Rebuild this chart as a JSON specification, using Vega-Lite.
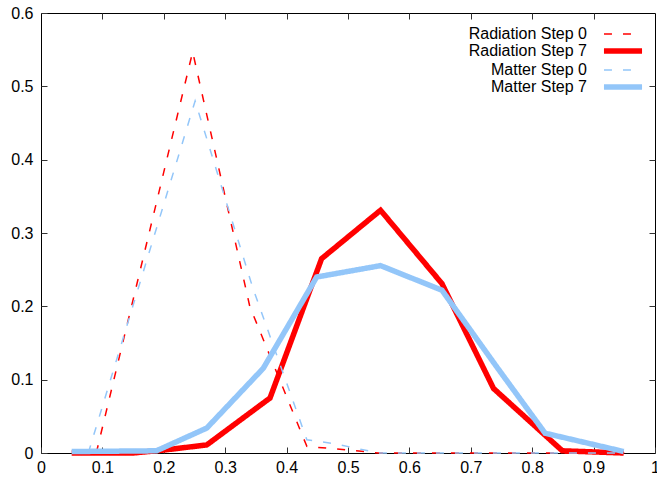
{
  "$schema": "https://vega.github.io/schema/vega-lite/v6.json",
  "width": 614,
  "height": 440,
  "autosize": {"type": "none"},
  "padding": {"left": 41, "top": 13, "right": 2, "bottom": 26},
  "background": "white",
  "config": {
    "view": {"stroke": "#000000", "strokeWidth": 1},
    "font": "Liberation Sans",
    "axis": {"grid": false, "domain": false, "tickColor": "#333333", "tickWidth": 1, "labelFont": "Liberation Sans", "labelFontSize": 16, "labelColor": "#000000"},
    "legend": {"labelFont": "Liberation Sans", "labelFontSize": 16, "labelColor": "#000000", "labelLimit": 300}
  },
  "data": {"values": [
    {"series": "Radiation Step 0", "x": 0.09, "y": 0},
    {"series": "Radiation Step 0", "x": 0.247, "y": 0.547},
    {"series": "Radiation Step 0", "x": 0.34, "y": 0.2},
    {"series": "Radiation Step 0", "x": 0.433, "y": 0.009},
    {"series": "Radiation Step 0", "x": 0.5, "y": 0.004},
    {"series": "Radiation Step 0", "x": 0.55, "y": 0},
    {"series": "Radiation Step 0", "x": 0.95, "y": 0},
    {"series": "Radiation Step 7", "x": 0.05, "y": 0},
    {"series": "Radiation Step 7", "x": 0.15, "y": 0},
    {"series": "Radiation Step 7", "x": 0.2, "y": 0.004},
    {"series": "Radiation Step 7", "x": 0.27, "y": 0.011},
    {"series": "Radiation Step 7", "x": 0.373, "y": 0.075},
    {"series": "Radiation Step 7", "x": 0.457, "y": 0.265},
    {"series": "Radiation Step 7", "x": 0.553, "y": 0.331},
    {"series": "Radiation Step 7", "x": 0.653, "y": 0.231},
    {"series": "Radiation Step 7", "x": 0.737, "y": 0.088},
    {"series": "Radiation Step 7", "x": 0.849, "y": 0.003},
    {"series": "Radiation Step 7", "x": 0.949, "y": 0},
    {"series": "Matter Step 0", "x": 0.077, "y": 0},
    {"series": "Matter Step 0", "x": 0.251, "y": 0.48},
    {"series": "Matter Step 0", "x": 0.345, "y": 0.225},
    {"series": "Matter Step 0", "x": 0.433, "y": 0.018},
    {"series": "Matter Step 0", "x": 0.476, "y": 0.013},
    {"series": "Matter Step 0", "x": 0.55, "y": 0},
    {"series": "Matter Step 0", "x": 0.95, "y": 0},
    {"series": "Matter Step 7", "x": 0.05, "y": 0.002},
    {"series": "Matter Step 7", "x": 0.188, "y": 0.003},
    {"series": "Matter Step 7", "x": 0.27, "y": 0.034},
    {"series": "Matter Step 7", "x": 0.362, "y": 0.1155},
    {"series": "Matter Step 7", "x": 0.449, "y": 0.24},
    {"series": "Matter Step 7", "x": 0.553, "y": 0.2555},
    {"series": "Matter Step 7", "x": 0.653, "y": 0.222},
    {"series": "Matter Step 7", "x": 0.74, "y": 0.12},
    {"series": "Matter Step 7", "x": 0.821, "y": 0.027},
    {"series": "Matter Step 7", "x": 0.949, "y": 0.002}
  ]},
  "resolve": {"axis": {"x": "independent", "y": "independent"}},
  "layer": [
    {
      "mark": {"type": "line", "clip": false},
      "encoding": {
        "x": {"field": "x", "type": "quantitative", "scale": {"domain": [0, 1], "nice": false},
              "axis": {"orient": "bottom", "title": null, "values": [0,0.1,0.2,0.3,0.4,0.5,0.6,0.7,0.8,0.9,1], "tickSize": -6, "labelPadding": 12, "labelFlush": false, "labelExpr": "datum.value == 0 ? '0' : datum.value == 1 ? '1' : format(datum.value, '.1f')"}},
        "y": {"field": "y", "type": "quantitative", "scale": {"domain": [0, 0.6], "nice": false, "zero": true},
              "axis": {"orient": "left", "title": null, "values": [0,0.1,0.2,0.3,0.4,0.5,0.6], "tickSize": -6, "labelPadding": 14, "labelFlush": false, "labelExpr": "datum.value == 0 ? '0' : format(datum.value, '.1f')"}},
        "color": {"field": "series", "type": "nominal",
                  "scale": {"domain": ["Radiation Step 0", "Radiation Step 7", "Matter Step 0", "Matter Step 7"], "range": ["#ff0000", "#ff0000", "#93c6f9", "#93c6f9"]},
                  "legend": {"title": null, "orient": "none", "legendX": 574, "legendY": 13, "symbolType": "M-5,0L5,0", "symbolSize": 58, "labelAlign": "right", "labelOffset": -44, "labelFontSize": 16, "rowPadding": -2, "padding": 0}},
        "strokeDash": {"field": "series", "type": "nominal",
                       "scale": {"type": "ordinal", "domain": ["Radiation Step 0", "Radiation Step 7", "Matter Step 0", "Matter Step 7"], "range": [[8, 11], [1, 0], [8, 11], [1, 0]]}},
        "strokeWidth": {"field": "series", "type": "nominal",
                        "scale": {"type": "ordinal", "domain": ["Radiation Step 0", "Radiation Step 7", "Matter Step 0", "Matter Step 7"], "range": [1.5, 5.5, 1.5, 5.5]}},
        "order": {"field": "x", "type": "quantitative"}
      }
    },
    {
      "mark": {"type": "line", "opacity": 0},
      "encoding": {
        "x": {"field": "x", "type": "quantitative",
              "axis": {"orient": "top", "title": null, "labels": false, "values": [0.1,0.2,0.3,0.4,0.5,0.6,0.7,0.8,0.9], "tickSize": -6}},
        "y": {"field": "y", "type": "quantitative",
              "axis": {"orient": "right", "title": null, "labels": false, "values": [0.1,0.2,0.3,0.4,0.5], "tickSize": -6}},
        "detail": {"field": "series"}
      }
    }
  ]
}
